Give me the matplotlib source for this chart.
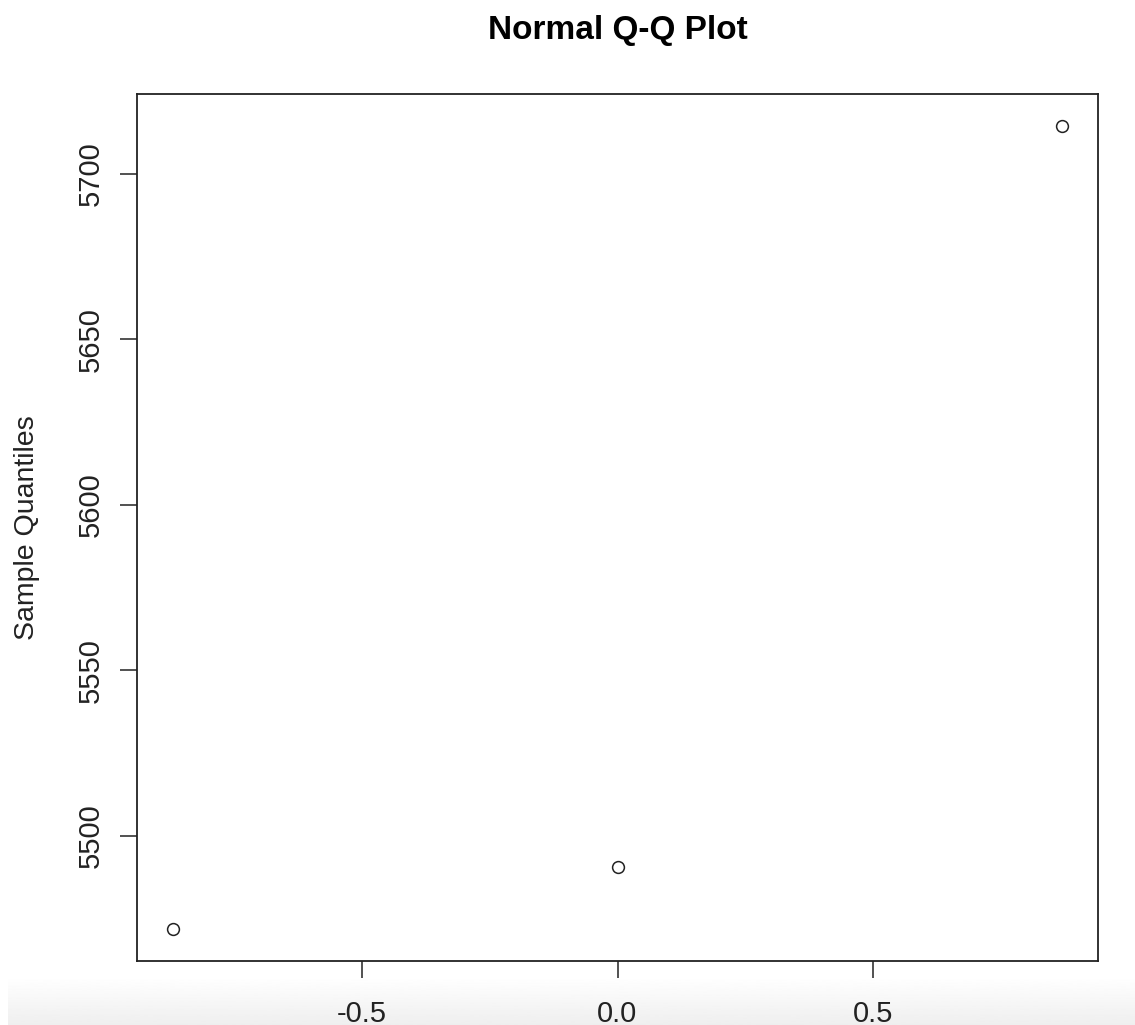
import numpy as np
import matplotlib
matplotlib.use('Agg')
import matplotlib.pyplot as plt

plt.rcParams['font.family'] = ['Liberation Sans', 'DejaVu Sans']
plt.rcParams['axes.unicode_minus'] = False

# theoretical quantiles (x) and sample quantiles (y)
theoretical = [-0.8694, 0.0, 0.8694]
sample = [5471.8, 5490.6, 5714.5]

xticks = [-0.5, 0.0, 0.5]
xtick_labels = ['-0.5', '0.0', '0.5']
yticks = [5500, 5550, 5600, 5650, 5700]
ytick_labels = ['5500', '5550', '5600', '5650', '5700']

fig = plt.figure(figsize=(11.35, 10.25), dpi=100)

# light grey fade at the bottom of the screenshot
bg = fig.add_axes([8/1135, 0, 1 - 8/1135, 48/1025], zorder=0)
grad = np.linspace(1.0, 0.935, 50).reshape(-1, 1)
bg.imshow(grad, aspect='auto', cmap='gray', vmin=0, vmax=1, extent=[0, 1, 0, 1], origin='upper')
bg.axis('off')

ax = fig.add_axes([137/1135, 64/1025, 961/1135, 867/1025], zorder=1)
ax.patch.set_alpha(0)

ax.plot(theoretical, sample, linestyle='none', marker='o', markersize=8.5,
        markerfacecolor='none', markeredgecolor='#222222', markeredgewidth=1.1)

ax.margins(x=0.04, y=0.04)

ax.set_xticks(xticks)
ax.set_xticklabels(xtick_labels)
ax.set_yticks(yticks)
ax.set_yticklabels(ytick_labels, rotation=90, va='center')

ax.tick_params(axis='both', length=12, width=1.1, color='#222222', labelsize=21, labelcolor='#222222')
ax.tick_params(axis='x', pad=16)
ax.tick_params(axis='y', pad=11)

for sp in ax.spines.values():
    sp.set_linewidth(1.3)
    sp.set_color('#222222')

ax.set_ylabel('Sample Quantiles', fontsize=20.5, color='#222222', labelpad=27)
fig.text(617.5/1135, 1 - 31/1025, 'Normal Q-Q Plot', ha='center', va='center',
         fontsize=24, fontweight='bold', color='black')

plt.savefig('out.png', dpi=100)
